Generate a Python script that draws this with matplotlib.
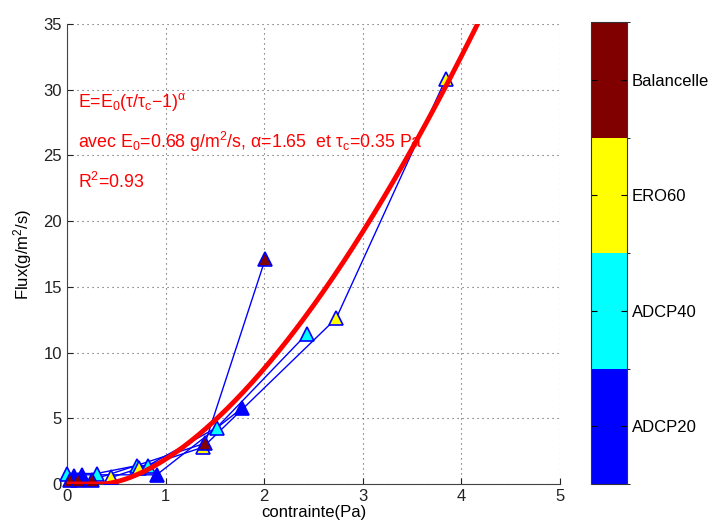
import numpy as np
import matplotlib
matplotlib.use('Agg')
import matplotlib.pyplot as plt
from matplotlib.colors import ListedColormap, BoundaryNorm
import matplotlib.cm as cm

plt.rcParams['font.family'] = ['Liberation Sans', 'DejaVu Sans']
plt.rcParams['mathtext.fontset'] = 'custom'
plt.rcParams['mathtext.rm'] = 'Liberation Sans'
plt.rcParams['mathtext.it'] = 'Liberation Sans'
plt.rcParams['mathtext.bf'] = 'Liberation Sans:bold'

''' data read off the figure '''
categories = ['ADCP20', 'ADCP40', 'ERO60', 'Balancelle']
cat_colors = ['#0000ff', '#00ffff', '#ffff00', '#800000']

adcp20_tau = [0.07, 0.15, 0.91, 1.78]
adcp20_flux = [0.6, 0.7, 0.7, 5.8]
adcp40_tau = [0.0, 0.30, 0.71, 0.82, 1.52, 2.43]
adcp40_flux = [0.8, 0.8, 1.4, 1.4, 4.3, 11.4]
ero60_tau = [0.45, 0.73, 1.38, 2.73, 3.84]
ero60_flux = [0.5, 1.2, 2.8, 12.6, 30.8]
bal_tau = [0.03, 0.11, 0.25, 1.40, 2.01]
bal_flux = [0.3, 0.3, 0.3, 3.1, 17.1]

series_tau = [adcp20_tau, adcp40_tau, ero60_tau, bal_tau]
series_flux = [adcp20_flux, adcp40_flux, ero60_flux, bal_flux]

# fit parameters
E0 = 0.68
alpha = 1.65
tau_c = 0.35

fig = plt.figure(figsize=(7.17, 5.32), dpi=100)
ax = fig.add_axes([0.0934, 0.0902, 0.6876, 0.8646])

for i in range(len(categories)):
    ax.plot(series_tau[i], series_flux[i], '-', color='#0000ff', lw=1.0, zorder=3)
for i in range(len(categories)):
    ax.plot(series_tau[i], series_flux[i], '^', ms=10, mfc=cat_colors[i],
            mec='#0000ff', mew=1.2, zorder=4, clip_on=False)

tau = np.linspace(0, 5, 400)
E = E0 * np.clip(tau / tau_c - 1, 0, None) ** alpha
ax.plot(tau, E, color='#ff0000', lw=3.5, zorder=5)

fs_txt = 12.8
ax.text(0.11, 28.7, r'E=E$_0$(τ/τ$_\mathrm{c}$−1)$^{α}$', color='#ff0000', fontsize=fs_txt)
ax.text(0.11, 25.6, r'avec E$_0$=0.68 g/m$^2$/s, α=1.65  et τ$_\mathrm{c}$=0.35 Pa',
        color='#ff0000', fontsize=fs_txt)
ax.text(0.11, 22.5, r'R$^2$=0.93', color='#ff0000', fontsize=fs_txt)

ax.set_xlim(0, 5)
ax.set_ylim(0, 35)
ax.set_xticks(range(0, 6))
ax.set_yticks(range(0, 36, 5))
ax.grid(True, linestyle=(0, (1, 3.5)), color='#555555', lw=0.8)
ax.set_axisbelow(True)
for s in ['top', 'right']:
    ax.spines[s].set_visible(False)
for s in ['left', 'bottom']:
    ax.spines[s].set_color('#444444')
ax.tick_params(direction='in', length=4, labelsize=12, colors='#222222')
ax.set_xlabel('contrainte(Pa)', fontsize=12, labelpad=1)
ax.set_ylabel('Flux(g/m$^2$/s)', fontsize=12, labelpad=7)

''' colorbar for categories '''
cax = fig.add_axes([0.824, 0.0902, 0.050, 0.8684])
cmap = ListedColormap(cat_colors)
norm = BoundaryNorm(np.arange(len(categories) + 1), cmap.N)
sm = cm.ScalarMappable(norm=norm, cmap=cmap)
cb = fig.colorbar(sm, cax=cax, ticks=np.arange(len(categories)) + 0.5)
cb.set_ticklabels(categories)
cb.ax.tick_params(direction='in', length=4, labelsize=12, left=True, right=True)
cb.outline.set_edgecolor('#333333')

fig.savefig('out.png', dpi=100)
